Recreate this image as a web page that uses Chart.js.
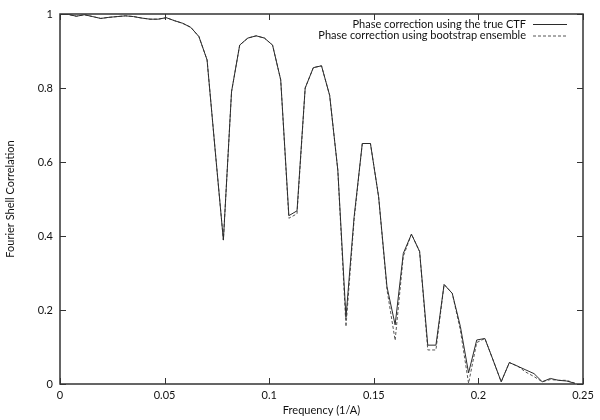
<!DOCTYPE html>
<html>
<head>
<meta charset="utf-8">
<script src="https://cdn.jsdelivr.net/npm/chart.js@4.4.1/dist/chart.umd.min.js"></script>
<style>
	html, body { margin: 0; padding: 0; background: #fff; }
	#wrap { width: 600px; height: 420px; }
</style>
</head>
<body>
<div id="wrap"><canvas id="fsc"></canvas></div>
<script>
// frequency of each shell (1/A)
const frequency = [
	0, 0.0039, 0.0078, 0.0117, 0.0156, 0.0195, 0.0234, 0.0273,
	0.0313, 0.0352, 0.0391, 0.0430, 0.0469, 0.0508, 0.0547, 0.0586,
	0.0625, 0.0664, 0.0703, 0.0742, 0.0781, 0.0820, 0.0859, 0.0898,
	0.0938, 0.0977, 0.1016, 0.1055, 0.1094, 0.1133, 0.1172, 0.1211,
	0.1250, 0.1289, 0.1328, 0.1367, 0.1406, 0.1445, 0.1484, 0.1523,
	0.1563, 0.1602, 0.1641, 0.1680, 0.1719, 0.1758, 0.1797, 0.1836,
	0.1875, 0.1914, 0.1953, 0.1992, 0.2031, 0.2070, 0.2109, 0.2148,
	0.2188, 0.2227, 0.2266, 0.2305, 0.2344, 0.2383, 0.2422, 0.2461
];
const fscTrueCtf = [
	1.000, 0.999, 0.994, 0.998, 0.993, 0.988, 0.991, 0.993,
	0.995, 0.993, 0.989, 0.986, 0.986, 0.990, 0.982, 0.975,
	0.964, 0.939, 0.876, 0.630, 0.389, 0.790, 0.916, 0.935,
	0.941, 0.935, 0.916, 0.822, 0.455, 0.468, 0.800, 0.855,
	0.860, 0.780, 0.578, 0.180, 0.452, 0.650, 0.650, 0.506,
	0.263, 0.160, 0.353, 0.405, 0.358, 0.105, 0.105, 0.269,
	0.245, 0.155, 0.030, 0.119, 0.123, 0.065, 0.006, 0.058,
	0.048, 0.038, 0.028, 0.006, 0.015, 0.010, 0.008, 0.002
];
const fscBootstrap = [
	1.000, 0.999, 0.994, 0.998, 0.993, 0.988, 0.991, 0.993,
	0.995, 0.993, 0.989, 0.986, 0.986, 0.990, 0.982, 0.975,
	0.964, 0.939, 0.876, 0.630, 0.389, 0.790, 0.916, 0.935,
	0.941, 0.935, 0.916, 0.822, 0.448, 0.460, 0.800, 0.855,
	0.860, 0.780, 0.578, 0.155, 0.445, 0.650, 0.650, 0.506,
	0.255, 0.118, 0.345, 0.405, 0.358, 0.092, 0.092, 0.269,
	0.245, 0.145, 0.002, 0.112, 0.123, 0.065, 0.006, 0.058,
	0.048, 0.032, 0.020, 0.006, 0.012, 0.010, 0.010, 0.002
];
const xTicks = [0, 0.05, 0.1, 0.15, 0.2, 0.25];
const yTicks = [0, 0.2, 0.4, 0.6, 0.8, 1];

const fontFamily = 'Lato, "Open Sans", sans-serif';
const inkColor = '#111';

const toPoints = values => frequency.map((f, i) => ({ x: f, y: values[i] }));
// gnuplot style labels: 1 not 1.0, 0.1 not 0.10
const plainNumber = value => String(Number(value.toFixed(2)));

// gnuplot-like frame: box all round, inward ticks on every side, legend top right
const framePlugin = {
	id: 'frame',
	afterDraw(chart) {
		const { ctx, chartArea: a, scales } = chart;
		ctx.save();
		ctx.strokeStyle = '#333';
		ctx.lineWidth = 1.5;
		ctx.strokeRect(a.left, a.top, a.right - a.left, a.bottom - a.top);

		ctx.lineWidth = 1;
		const tick = 6;
		ctx.beginPath();
		xTicks.forEach(v => {
			const px = Math.round(scales.x.getPixelForValue(v)) + 0.5;
			ctx.moveTo(px, a.bottom);
			ctx.lineTo(px, a.bottom - tick);
			ctx.moveTo(px, a.top);
			ctx.lineTo(px, a.top + tick);
		});
		yTicks.forEach(v => {
			const py = Math.round(scales.y.getPixelForValue(v)) + 0.5;
			ctx.moveTo(a.left, py);
			ctx.lineTo(a.left + tick, py);
			ctx.moveTo(a.right, py);
			ctx.lineTo(a.right - tick, py);
		});
		ctx.stroke();

		// legend
		ctx.font = `11px ${fontFamily}`;
		ctx.textAlign = 'right';
		ctx.textBaseline = 'middle';
		const textRight = a.right - 57;
		chart.data.datasets.forEach((ds, i) => {
			const y = a.top + 10 + i * 11.5;
			ctx.fillStyle = inkColor;
			ctx.fillText(ds.label, textRight, y);
			ctx.strokeStyle = ds.borderColor;
			ctx.lineWidth = ds.borderWidth;
			ctx.setLineDash(ds.borderDash || []);
			ctx.beginPath();
			ctx.moveTo(textRight + 7, y + 0.5);
			ctx.lineTo(textRight + 41, y + 0.5);
			ctx.stroke();
		});
		ctx.restore();
	}
};

new Chart(document.getElementById('fsc'), {
	type: 'line',
	data: {
		datasets: [
			{
				label: 'Phase correction using the true CTF',
				data: toPoints(fscTrueCtf),
				borderColor: '#2b2b2b',
				borderWidth: 1,
				pointRadius: 0,
				tension: 0,
				fill: false
			},
			{
				label: 'Phase correction using bootstrap ensemble',
				data: toPoints(fscBootstrap),
				borderColor: '#555',
				borderWidth: 1,
				borderDash: [3, 2],
				pointRadius: 0,
				tension: 0,
				fill: false
			}
		]
	},
	options: {
		responsive: true,
		maintainAspectRatio: false,
		animation: false,
		layout: {
			padding: { top: 14, right: 17, left: 0, bottom: 0 }
		},
		plugins: {
			legend: { display: false },
			tooltip: { enabled: false }
		},
		scales: {
			x: {
				type: 'linear',
				min: 0,
				max: 0.25,
				afterFit: scale => { scale.height = 36; },
				afterBuildTicks: scale => { scale.ticks = xTicks.map(v => ({ value: v })); },
				grid: { display: false, drawTicks: false },
				border: { display: false },
				ticks: {
					padding: 5,
					color: inkColor,
					font: { family: fontFamily, size: 11 },
					maxRotation: 0,
					callback: plainNumber
				},
				title: {
					display: true,
					text: 'Frequency (1/A)',
					color: inkColor,
					font: { family: fontFamily, size: 11 },
					padding: { top: 0, bottom: 3 }
				}
			},
			y: {
				min: 0,
				max: 1,
				afterFit: scale => { scale.width = 60; },
				afterBuildTicks: scale => { scale.ticks = yTicks.map(v => ({ value: v })); },
				grid: { display: false, drawTicks: false },
				border: { display: false },
				ticks: {
					padding: 7,
					color: inkColor,
					font: { family: fontFamily, size: 11 },
					callback: plainNumber
				},
				title: {
					display: true,
					text: 'Fourier Shell Correlation',
					color: inkColor,
					font: { family: fontFamily, size: 11 },
					padding: { top: 4, bottom: 0 }
				}
			}
		}
	},
	plugins: [framePlugin]
});
</script>
</body>
</html>
